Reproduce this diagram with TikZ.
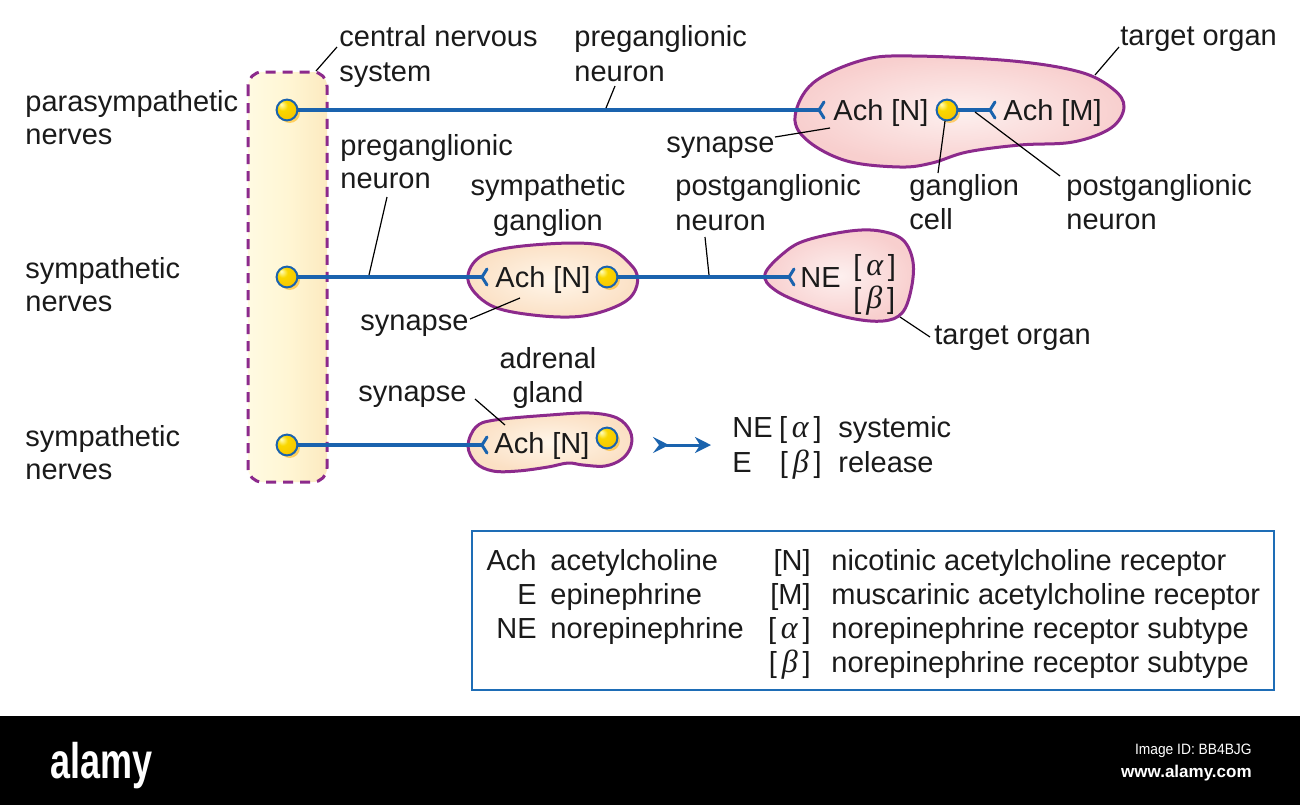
\documentclass[tikz,border=0pt]{standalone}
\usepackage{fontspec}
\setmainfont{Liberation Sans}
\newfontfamily\grkfont{Liberation Serif}
\usetikzlibrary{arrows.meta,shadows}
\definecolor{nerve}{HTML}{1A63AE}
\definecolor{purp}{HTML}{8C2A8C}
\definecolor{pinkin}{HTML}{FDF0EF}
\definecolor{pinkout}{HTML}{F8CFCE}
\definecolor{peachin}{HTML}{FFF6EA}
\definecolor{peachout}{HTML}{FBE0C4}
\definecolor{legblue}{HTML}{1E6DB6}
\definecolor{txt}{HTML}{1A1A1A}
\definecolor{cnsl}{HTML}{FFFAE2}
\definecolor{cnsm}{HTML}{FFF6D4}
\definecolor{cnsr}{HTML}{FCEAC0}
\definecolor{gold}{HTML}{F7C600}
\definecolor{goldd}{HTML}{E8A200}
\pgfdeclareradialshading{dotball}{\pgfpoint{-14bp}{14bp}}{color(0bp)=(yellow!25!white); color(12bp)=(gold!70!yellow); color(30bp)=(gold); color(45bp)=(goldd); color(50bp)=(goldd)}
\newcommand\labfont{\fontsize{14.5}{17}\selectfont}
\newcommand\galpha{{\grkfont\itshape\fontsize{16}{17}\selectfont α}}
\newcommand\gbeta{{\grkfont\itshape\fontsize{16}{17}\selectfont β}}
\begin{document}
\begin{tikzpicture}[x=0.5pt,y=-0.5pt,
  lbl/.style={font=\labfont, text=txt, inner sep=0pt, anchor=base west},
  lblc/.style={font=\labfont, text=txt, inner sep=0pt, anchor=base},
  lbr/.style={font=\labfont, text=txt, inner sep=0pt, anchor=base east},
  organ/.style={draw=purp, line width=1.5pt},
  pinkorgan/.style={organ, inner color=pinkin, outer color=pinkout},
  peachorgan/.style={organ, inner color=peachin, outer color=peachout},
  nerveline/.style={draw=nerve, line width=2.2pt},
  leader/.style={draw=black, line width=0.6pt},
  ndot/.style={circle, draw=nerve, line width=1pt, minimum size=10.4pt, inner sep=0pt, shading=dotball,
     drop shadow={shadow xshift=1.3pt, shadow yshift=-1.3pt, fill=orange!60!yellow, opacity=0.55}},
  recep/.pic={\draw[nerve, line width=1.5pt, line cap=round, line join=round] (5,-8) .. controls (2,-4) .. (0,0) .. controls (2,4) .. (5,8);}
]
\useasboundingbox (0,0) rectangle (1300,805);
\fill[white] (0,0) rectangle (1300,805);
\fill[black] (0,716) rectangle (1300,805);

% central nervous system bar
\path[left color=cnsl, right color=cnsr, middle color=cnsm, rounded corners=7pt] (248,72) rectangle (327,482);
\draw[draw=purp, line width=1.5pt, dash pattern=on 5pt off 3.5pt, rounded corners=7pt] (248,72) rectangle (327,482);

% organs
\draw[pinkorgan] plot[smooth cycle, tension=0.6] coordinates {(795,117) (813,83) (863,60) (913,56) (1013,61) (1080,72) (1113,89) (1124,107) (1111,128) (1073,142) (1020,145) (967,152) (932,163) (900,167) (847,161) (808,141)};
\draw[peachorgan] plot[smooth cycle, tension=0.6] coordinates {(468,280) (483,255) (533,245) (600,245) (632,266) (637,285) (623,303) (583,316) (533,315) (490,305)};
\draw[pinkorgan] plot[smooth cycle, tension=0.6] coordinates {(765,274) (785,252) (807,240) (850,231) (880,231) (903,240) (913,262) (911,290) (902,313) (883,321) (850,318) (807,305) (775,290)};
\draw[peachorgan] plot[smooth cycle, tension=0.6] coordinates {(468,446) (476,427) (495,420) (550,415) (590,413) (617,418) (630,431) (631,446) (622,459) (605,466) (583,465) (568,463) (548,467) (518,471) (493,471) (476,463)};

% receptor coordinates
\coordinate (f1) at (819,110);
\coordinate (f2) at (990,110);
\coordinate (f3) at (482,277);
\coordinate (f4) at (789,277);
\coordinate (f5) at (482,445);

% neuron dots
\node[ndot] (d1) at (287,110) {};
\node[ndot] (d2) at (287,277) {};
\node[ndot] (d3) at (287,445) {};
\node[ndot] (d4) at (947,110) {};
\node[ndot] (d5) at (607,277) {};
\node[ndot] (d6) at (607,438) {};

% nerve fibres
\draw[nerveline] (d1) -- (f1);
\draw[nerveline] (d4) -- (f2);
\draw[nerveline] (d2) -- (f3);
\draw[nerveline] (d5) -- (f4);
\draw[nerveline] (d3) -- (f5);
\pic at (f1) {recep};
\pic at (f2) {recep};
\pic at (f3) {recep};
\pic at (f4) {recep};
\pic at (f5) {recep};

% release arrow
\coordinate (arrS) at (653,445);
\coordinate (arrE) at (711,445);
\draw[nerve, line width=1.5pt, {Stealth[reversed, length=8pt, width=8pt, inset=3pt]}-{Stealth[length=8pt, width=8pt, inset=2.5pt]}] (arrS) -- (arrE);

% left labels
\node[lbl] (pn1) at (25,111) {parasympathetic};
\node[lbl] (pn2) at (25,144) {nerves};
\node[lbl] (sn1) at (25,278) {sympathetic};
\node[lbl] (sn2) at (25,311) {nerves};
\node[lbl] (an1) at (25,446) {sympathetic};
\node[lbl] (an2) at (25,479) {nerves};

% top labels
\node[lbl] (cns1) at (339,46) {central nervous};
\node[lbl] (cns2) at (339,81) {system};
\node[lbl] (pre1) at (574,46) {preganglionic};
\node[lbl] (pre2) at (574,81) {neuron};
\node[lbl] (to1) at (1120,45) {target organ};
\node[lbl] (syn1) at (666,152) {synapse};
\node[lbl] (gc1) at (909,195) {ganglion};
\node[lbl] (gc2) at (909,229) {cell};
\node[lbl] (post1) at (1066,195) {postganglionic};
\node[lbl] (post2) at (1066,229) {neuron};

% middle labels
\node[lbl] (pre3) at (340,155) {preganglionic};
\node[lbl] (pre4) at (340,188) {neuron};
\node[lblc] (sg1) at (548,195) {sympathetic};
\node[lblc] (sg2) at (548,230) {ganglion};
\node[lbl] (post3) at (675,195) {postganglionic};
\node[lbl] (post4) at (675,230) {neuron};
\node[lbl] (syn2) at (360,330) {synapse};
\node[lbl] (to2) at (934,344) {target organ};

% bottom labels
\node[lblc] (ag1) at (548,368) {adrenal};
\node[lblc] (ag2) at (548,402) {gland};
\node[lbl] (syn3) at (358,401) {synapse};

% texts inside organs
\node[lbl] (achN1) at (833,120) {Ach [N]};
\node[lbl] (achM) at (1003,120) {Ach [M]};
\node[lbl] (achN2) at (495,287) {Ach [N]};
\node[lbl] (ne) at (800,287) {NE};
\node[lbl] (alpha1) at (853,275) {[\,\galpha\,]};
\node[lbl] (beta1) at (853,308) {[\,\gbeta\,]};
\node[lbl] (achN3) at (494,453) {Ach [N]};

% systemic release
\node[lbl] (sNE) at (732,437) {NE};
\node[lbr] (sA) at (822,437) {[\,\galpha\,]};
\node[lbl] (sSys) at (838,437) {systemic};
\node[lbl] (sE) at (732,472) {E};
\node[lbr] (sB) at (822,472) {[\,\gbeta\,]};
\node[lbl] (sRel) at (838,472) {release};

% leaders
\coordinate (lcA) at (337,47);  \coordinate (lcB) at (316,71);
\coordinate (lpA) at (615,86);  \coordinate (lpB) at (606,108);
\coordinate (ltA) at (1119,47); \coordinate (ltB) at (1095,75);
\coordinate (lsA) at (775,137); \coordinate (lsB) at (830,128);
\coordinate (lgA) at (938,173); \coordinate (lgB) at (945,121);
\coordinate (lqA) at (1060,176);\coordinate (lqB) at (975,112);
\coordinate (lrA) at (387,197); \coordinate (lrB) at (369,275);
\coordinate (loA) at (705,237); \coordinate (loB) at (709,275);
\coordinate (lyA) at (470,319); \coordinate (lyB) at (520,298);
\coordinate (lmA) at (930,337); \coordinate (lmB) at (900,317);
\coordinate (lzA) at (475,399); \coordinate (lzB) at (505,425);
\foreach \a/\b in {lcA/lcB,lpA/lpB,ltA/ltB,lsA/lsB,lgA/lgB,lqA/lqB,lrA/lrB,loA/loB,lyA/lyB,lmA/lmB,lzA/lzB}
  \draw[leader] (\a) -- (\b);

% legend
\draw[draw=legblue, line width=1pt] (472,531) rectangle (1274,690);
\node[lbr] (kAch) at (537,570) {Ach};
\node[lbr] (kE) at (537,604) {E};
\node[lbr] (kNE) at (537,638) {NE};
\node[lbl] (vAch) at (550,570) {acetylcholine};
\node[lbl] (vE) at (550,604) {epinephrine};
\node[lbl] (vNE) at (550,638) {norepinephrine};
\node[lbr] (kN) at (811,570) {[N]};
\node[lbr] (kM) at (811,604) {[M]};
\node[lbr] (kA) at (811,638) {[\,\galpha\,]};
\node[lbr] (kB) at (811,672) {[\,\gbeta\,]};
\node[lbl] (vN) at (831,570) {nicotinic acetylcholine receptor};
\node[lbl] (vM) at (831,604) {muscarinic acetylcholine receptor};
\node[lbl] (vA) at (831,638) {norepinephrine receptor subtype};
\node[lbl] (vB) at (831,672) {norepinephrine receptor subtype};

% footer
\node[text=white, font=\bfseries\fontsize{25}{25}\selectfont, inner sep=0pt, anchor=base west] (alamy) at (50,778) {\scalebox{0.72}[1]{alamy}};
\node[text=white, font=\fontsize{7.5}{9}\selectfont, inner sep=0pt, anchor=base east] (imgid) at (1252,754) {\scalebox{0.92}[1]{Image ID: BB4BJG}};
\node[text=white, font=\bfseries\fontsize{8.5}{10}\selectfont, inner sep=0pt, anchor=base east] (www) at (1252,777) {www.alamy.com};
\end{tikzpicture}
\end{document}
